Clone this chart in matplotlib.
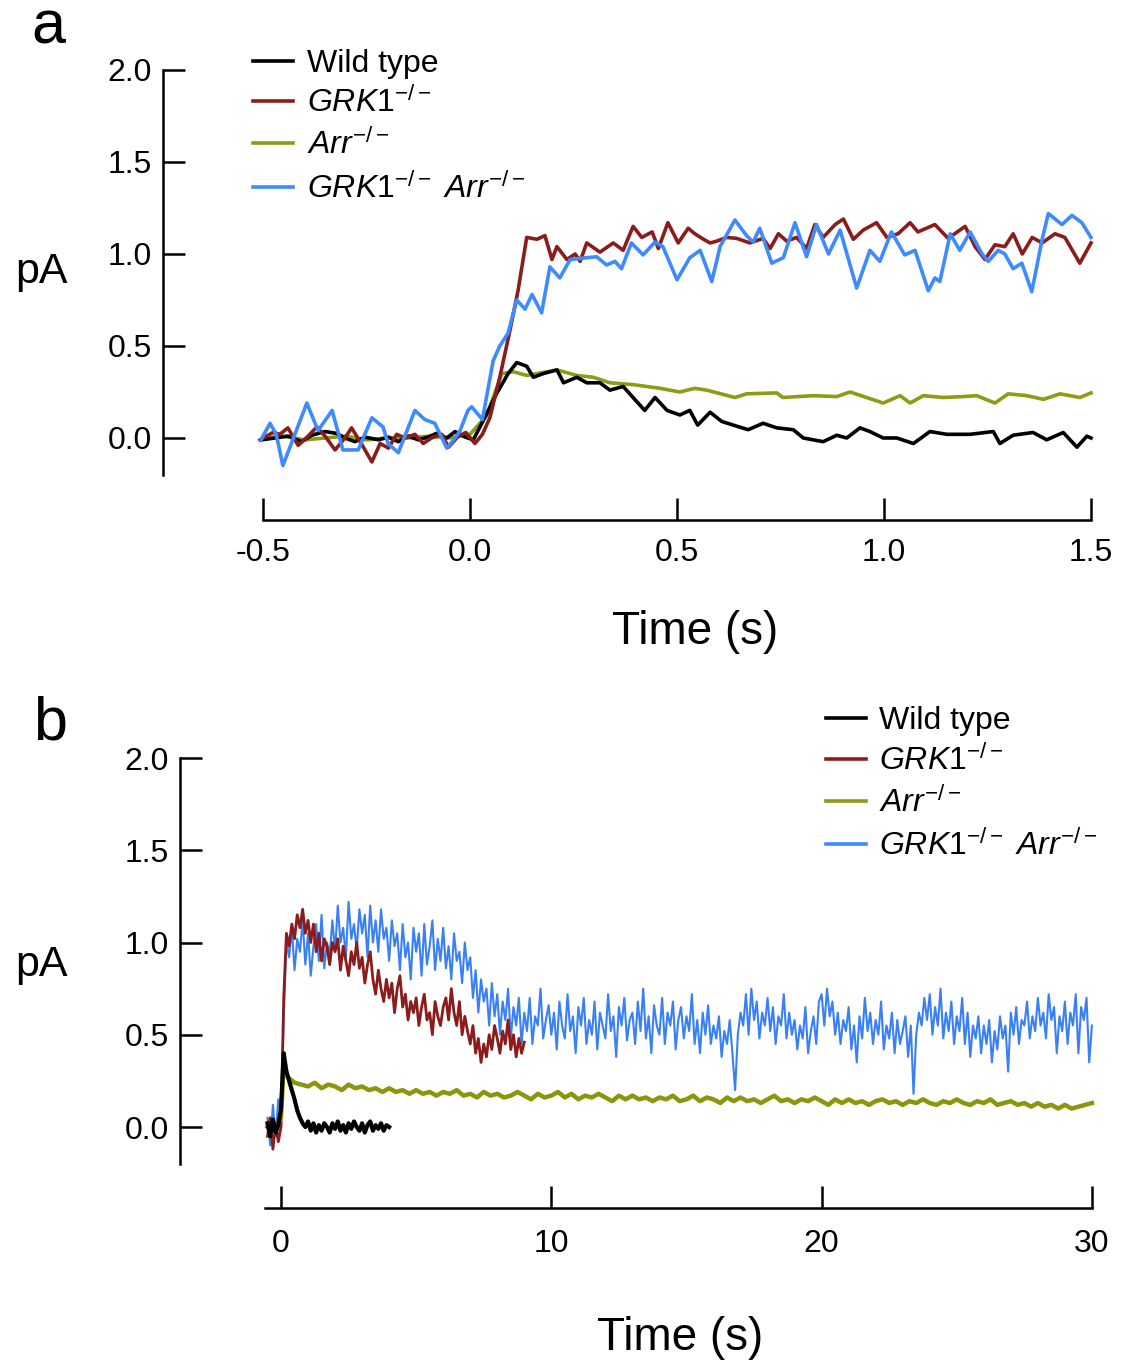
import numpy as np
import matplotlib
matplotlib.use('Agg')
import matplotlib.pyplot as plt
from matplotlib.lines import Line2D

plt.rcParams['font.family'] = ['Liberation Sans', 'DejaVu Sans']
plt.rcParams['axes.unicode_minus'] = False
plt.rcParams['mathtext.fontset'] = 'custom'
plt.rcParams['mathtext.rm'] = 'Liberation Sans'
plt.rcParams['mathtext.it'] = 'Liberation Sans:italic'
plt.rcParams['mathtext.bf'] = 'Liberation Sans:bold'

W, H = 1122, 1364

labels = ['Wild type', r'$\mathit{GRK1}^{-/-}$', r'$\mathit{Arr}^{-/-}$',
          r'$\mathit{GRK1}^{-/-}\ \mathit{Arr}^{-/-}$']
colors = ['#000000', '#8b1c1c', '#8f9b12', '#3d8bff']
y_ticks = [0.0, 0.5, 1.0, 1.5, 2.0]
x_ticks_a = [-0.5, 0.0, 0.5, 1.0, 1.5]
x_ticks_b = [0, 10, 20, 30]

# ---- panel a (0 - 1.5 s) ----
t_wt_a = [-0.503, -0.471, -0.439, -0.407, -0.382, -0.35, -0.322, -0.302, -0.278, -0.254,
          -0.221, -0.197, -0.173, -0.149, -0.125, -0.101, -0.081, -0.056, -0.036, -0.012,
          0.008, 0.04, 0.064, 0.092, 0.113, 0.137, 0.153, 0.177, 0.21, 0.226,
          0.258, 0.282, 0.314, 0.338, 0.37, 0.394, 0.422, 0.447, 0.476, 0.507,
          0.531, 0.55, 0.58, 0.608, 0.636, 0.672, 0.708, 0.741, 0.781, 0.805,
          0.853, 0.886, 0.91, 0.942, 0.966, 0.998, 1.031, 1.071, 1.111, 1.152,
          1.208, 1.264, 1.28, 1.312, 1.36, 1.393, 1.433, 1.466, 1.49, 1.5]
wt_a = [-0.01, 0.0, 0.01, -0.02, 0.015, 0.035, 0.025, 0.0, -0.02, 0.005,
        -0.01, 0.005, -0.02, 0.01, -0.01, 0.005, 0.025, 0.0, 0.035, 0.005,
        -0.01, 0.13, 0.24, 0.35, 0.41, 0.39, 0.33, 0.35, 0.37, 0.30,
        0.33, 0.30, 0.30, 0.26, 0.28, 0.22, 0.15, 0.22, 0.15, 0.125,
        0.15, 0.07, 0.14, 0.09, 0.07, 0.045, 0.08, 0.055, 0.045, 0.0,
        -0.02, 0.015, 0.0, 0.055, 0.035, 0.0, 0.0, -0.03, 0.035, 0.02,
        0.02, 0.035, -0.03, 0.015, 0.03, -0.01, 0.03, -0.05, 0.01, 0.0]

t_grk_a = [-0.507, -0.476, -0.459, -0.44, -0.415, -0.391, -0.37, -0.35, -0.326, -0.302,
           -0.286, -0.26, -0.237, -0.217, -0.197, -0.177, -0.157, -0.133, -0.113, -0.093,
           -0.068, -0.052, -0.028, -0.01, 0.012, 0.03, 0.048, 0.072, 0.097, 0.116,
           0.137, 0.162, 0.181, 0.198, 0.21, 0.234, 0.254, 0.266, 0.282, 0.314,
           0.346, 0.37, 0.394, 0.415, 0.44, 0.455, 0.478, 0.503, 0.527, 0.543,
           0.564, 0.58, 0.596, 0.62, 0.644, 0.676, 0.708, 0.725, 0.745, 0.765,
           0.789, 0.813, 0.833, 0.853, 0.882, 0.902, 0.926, 0.95, 0.982, 1.007,
           1.034, 1.063, 1.082, 1.123, 1.155, 1.196, 1.22, 1.244, 1.268, 1.292,
           1.312, 1.334, 1.358, 1.382, 1.413, 1.437, 1.473, 1.5]
grk_a = [-0.01, 0.03, 0.02, 0.055, -0.04, 0.01, 0.06, 0.01, -0.065, 0.0,
         0.055, -0.04, -0.13, -0.03, -0.055, 0.02, 0.0, 0.02, -0.03, 0.0,
         0.02, -0.05, 0.01, 0.03, -0.03, 0.02, 0.11, 0.33, 0.59, 0.80,
         1.09, 1.08, 1.10, 0.97, 1.04, 0.97, 1.0, 0.96, 1.06, 1.01,
         1.06, 1.02, 1.15, 1.09, 1.12, 1.03, 1.17, 1.06, 1.14, 1.11,
         1.08, 1.06, 1.07, 1.09, 1.085, 1.06, 1.085, 1.03, 1.11, 1.07,
         1.09, 1.03, 1.16, 1.09, 1.16, 1.19, 1.08, 1.13, 1.17, 1.09,
         1.11, 1.17, 1.12, 1.16, 1.085, 1.15, 1.04, 0.97, 1.05, 1.04,
         1.11, 1.0, 1.09, 1.06, 1.11, 1.09, 0.95, 1.06]

t_arr_a = [-0.5, -0.45, -0.4, -0.35, -0.3, -0.25, -0.2, -0.15, -0.1, -0.05,
           0.0, 0.04, 0.077, 0.105, 0.137, 0.21, 0.258, 0.298, 0.338, 0.394,
           0.459, 0.507, 0.543, 0.572, 0.64, 0.668, 0.741, 0.756, 0.829, 0.886,
           0.918, 0.958, 0.998, 1.039, 1.063, 1.095, 1.143, 1.191, 1.224, 1.268,
           1.3, 1.345, 1.385, 1.425, 1.473, 1.5]
arr_a = [0.0, 0.01, -0.01, 0.0, 0.01, -0.01, 0.0, 0.0, 0.01, 0.0,
         0.02, 0.12, 0.35, 0.36, 0.34, 0.37, 0.34, 0.33, 0.30, 0.29,
         0.27, 0.25, 0.27, 0.26, 0.22, 0.24, 0.245, 0.22, 0.23, 0.225,
         0.25, 0.22, 0.19, 0.23, 0.19, 0.23, 0.22, 0.225, 0.23, 0.19,
         0.24, 0.23, 0.21, 0.24, 0.22, 0.245]

t_dko_a = [-0.505, -0.483, -0.468, -0.452, -0.423, -0.394, -0.367, -0.333, -0.307, -0.27,
           -0.237, -0.21, -0.198, -0.173, -0.133, -0.109, -0.085, -0.056, -0.036, -0.024,
           -0.005, 0.004, 0.03, 0.056, 0.072, 0.092, 0.113, 0.133, 0.15, 0.173,
           0.193, 0.217, 0.242, 0.282, 0.306, 0.33, 0.35, 0.366, 0.39, 0.418,
           0.447, 0.466, 0.5, 0.531, 0.556, 0.584, 0.604, 0.64, 0.668, 0.684,
           0.7, 0.729, 0.757, 0.785, 0.813, 0.837, 0.866, 0.894, 0.934, 0.966,
           0.99, 1.018, 1.05, 1.075, 1.107, 1.123, 1.135, 1.16, 1.183, 1.208,
           1.237, 1.252, 1.276, 1.292, 1.312, 1.333, 1.357, 1.382, 1.397, 1.43,
           1.454, 1.478, 1.5]
dko_a = [-0.01, 0.08, 0.02, -0.15, 0.02, 0.19, 0.04, 0.15, -0.065, -0.065,
         0.11, 0.06, -0.03, -0.08, 0.15, 0.10, 0.08, -0.055, 0.0, 0.04,
         0.15, 0.17, 0.10, 0.42, 0.50, 0.57, 0.75, 0.70, 0.78, 0.68,
         0.93, 0.87, 0.97, 0.98, 0.985, 0.94, 0.96, 0.92, 1.06, 0.995,
         1.065, 1.04, 0.86, 0.98, 1.02, 0.85, 1.04, 1.185, 1.10, 1.065,
         1.14, 0.95, 0.98, 1.17, 0.985, 1.16, 1.0, 1.13, 0.815, 1.02,
         0.96, 1.12, 0.995, 1.02, 0.80, 0.87, 0.85, 1.11, 1.02, 1.12,
         1.0, 0.96, 1.02, 1.0, 0.92, 0.95, 0.795, 1.08, 1.22, 1.16,
         1.21, 1.17, 1.09]

# ---- panel b (0 - 30 s), sampled every 0.1 s from -0.5 s ----
wt_b = [0.02, -0.05, 0.04, -0.03, 0.01,
        0.10, 0.40, 0.30, 0.25, 0.20, 0.15, 0.09, 0.05, 0.02, 0.0,
        0.03, -0.02, 0.02, -0.03, 0.01, -0.02, 0.02, 0.0, -0.03, 0.02,
        -0.01, 0.03, -0.02, 0.01, -0.03, 0.02, -0.01, 0.03, 0.0, -0.02,
        0.02, -0.03, 0.01, 0.03, -0.02, 0.01, -0.01, 0.02, -0.02, 0.01,
        0.0]

grk_b = [-0.05, 0.05, -0.12, 0.02, -0.08,
         0.0, 0.70, 1.05, 0.98, 1.10, 1.02, 1.15, 1.08, 1.18, 1.05,
         1.12, 1.00, 1.10, 0.95, 1.05, 0.90, 1.02, 0.98, 0.88, 1.00,
         0.95, 1.02, 0.85, 0.98, 0.90, 0.82, 0.95, 0.88, 1.00, 0.86,
         0.92, 0.78, 0.88, 0.95, 0.80, 0.72, 0.85, 0.75, 0.68, 0.80,
         0.70, 0.78, 0.62, 0.75, 0.82, 0.65, 0.72, 0.58, 0.68, 0.62,
         0.70, 0.55, 0.65, 0.72, 0.58, 0.62, 0.50, 0.68, 0.60, 0.55,
         0.65, 0.70, 0.58, 0.75, 0.62, 0.55, 0.68, 0.50, 0.60, 0.52,
         0.45, 0.55, 0.40, 0.48, 0.35, 0.45, 0.38, 0.50, 0.42, 0.55,
         0.48, 0.40, 0.52, 0.45, 0.58, 0.42, 0.50, 0.38, 0.48, 0.40,
         0.46]

dko_b = [0.05, -0.10, 0.12, -0.05, 0.15,
         0.05, 0.60, 1.00, 0.92, 1.08, 0.85, 1.02, 0.95, 1.12, 0.88,
         1.05, 0.82, 0.98, 1.10, 0.90, 1.15, 0.86, 1.00, 0.93, 1.12,
         0.95, 1.20, 1.00, 1.08, 0.92, 1.22, 1.02, 1.10, 0.96, 1.18,
         1.05, 1.15, 0.92, 1.20, 1.00, 1.12, 0.95, 1.18, 1.02, 1.08,
         0.90, 1.12, 0.98, 1.05, 0.85, 1.10, 0.92, 1.00, 0.80, 1.08,
         0.95, 1.05, 0.82, 1.10, 0.88, 0.98, 1.12, 0.85, 1.02, 0.90,
         1.08, 0.86, 0.98, 0.80, 1.05, 0.90, 0.95, 0.78, 1.00, 0.85,
         0.92, 0.70, 0.85, 0.62, 0.80, 0.68, 0.75, 0.55, 0.78, 0.60,
         0.72, 0.50, 0.68, 0.58, 0.75, 0.48, 0.65, 0.55, 0.70, 0.45,
         0.62, 0.52, 0.70, 0.45, 0.60, 0.55, 0.75, 0.48, 0.58, 0.66,
         0.50, 0.62, 0.42, 0.68, 0.55, 0.48, 0.72, 0.52, 0.60, 0.40,
         0.65, 0.55, 0.70, 0.45, 0.58, 0.50, 0.68, 0.42, 0.62, 0.55,
         0.48, 0.72, 0.52, 0.60, 0.38, 0.65, 0.55, 0.70, 0.47, 0.58,
         0.62, 0.45, 0.68, 0.52, 0.75, 0.48, 0.60, 0.40, 0.66, 0.55,
         0.50, 0.70, 0.45, 0.62, 0.55, 0.68, 0.42, 0.58, 0.65, 0.48,
         0.60, 0.52, 0.72, 0.45, 0.58, 0.40, 0.62, 0.50, 0.66, 0.45,
         0.55, 0.48, 0.60, 0.38, 0.52, 0.45, 0.58, 0.40, 0.20, 0.50,
         0.62, 0.55, 0.72, 0.50, 0.75, 0.58, 0.68, 0.48, 0.62, 0.55,
         0.70, 0.52, 0.65, 0.45, 0.60, 0.55, 0.72, 0.48, 0.62, 0.50,
         0.58, 0.42, 0.55, 0.48, 0.65, 0.40, 0.52, 0.60, 0.45, 0.68,
         0.72, 0.55, 0.75, 0.60, 0.68, 0.50, 0.62, 0.45, 0.58, 0.52,
         0.65, 0.42, 0.55, 0.35, 0.60, 0.48, 0.70, 0.52, 0.62, 0.45,
         0.58, 0.50, 0.68, 0.42, 0.55, 0.48, 0.62, 0.40, 0.58, 0.45,
         0.52, 0.60, 0.38, 0.55, 0.18, 0.50, 0.62, 0.55, 0.70, 0.58,
         0.72, 0.50, 0.65, 0.55, 0.75, 0.48, 0.62, 0.52, 0.68, 0.45,
         0.60, 0.52, 0.70, 0.45, 0.62, 0.38, 0.55, 0.48, 0.60, 0.40,
         0.55, 0.45, 0.58, 0.35, 0.52, 0.42, 0.60, 0.48, 0.55, 0.30,
         0.62, 0.50, 0.65, 0.45, 0.58, 0.55, 0.68, 0.48, 0.60, 0.52,
         0.70, 0.55, 0.62, 0.48, 0.72, 0.58, 0.65, 0.40, 0.60, 0.52,
         0.68, 0.45, 0.62, 0.55, 0.72, 0.40, 0.65, 0.58, 0.70, 0.35,
         0.55]

t_arr_b_head = [-0.5, -0.3, -0.1, 0.0, 0.1, 0.25, 0.5, 0.75]
arr_b = [0.0, -0.03, 0.02, 0.05, 0.35, 0.27, 0.24, 0.23,
         0.22, 0.24, 0.21, 0.23, 0.22, 0.20, 0.23, 0.21,
         0.22, 0.20, 0.21, 0.19, 0.21, 0.19, 0.20, 0.18,
         0.20, 0.18, 0.19, 0.17, 0.19, 0.18, 0.20, 0.17,
         0.18, 0.16, 0.19, 0.17, 0.18, 0.16, 0.17, 0.19,
         0.17, 0.15, 0.18, 0.16, 0.17, 0.19, 0.16, 0.18,
         0.15, 0.17, 0.16, 0.18, 0.16, 0.14, 0.17, 0.15,
         0.17, 0.15, 0.16, 0.14, 0.16, 0.15, 0.17, 0.14,
         0.15, 0.17, 0.14, 0.16, 0.15, 0.13, 0.16, 0.14,
         0.16, 0.14, 0.15, 0.13, 0.15, 0.17, 0.14, 0.15,
         0.13, 0.15, 0.14, 0.16, 0.14, 0.12, 0.15, 0.13,
         0.15, 0.13, 0.14, 0.12, 0.14, 0.15, 0.13, 0.14,
         0.12, 0.14, 0.13, 0.15, 0.13, 0.12, 0.14, 0.13,
         0.15, 0.13, 0.12, 0.14, 0.13, 0.15, 0.12, 0.13,
         0.14, 0.12, 0.13, 0.11, 0.13, 0.11, 0.12, 0.10,
         0.12, 0.10, 0.11, 0.12, 0.13]

t_b = np.round(np.arange(len(dko_b)) * 0.1 - 0.5, 2)
t_arr_b = np.concatenate([t_arr_b_head, 1.0 + 0.25 * np.arange(len(arr_b) - len(t_arr_b_head))])


def px(x, y):
    return x / W, 1 - y / H


def style_axes(ax, xticks, xb0, xb1, xpad):
    for s in ['top', 'right']:
        ax.spines[s].set_visible(False)
    for s in ['left', 'bottom']:
        ax.spines[s].set_linewidth(1.8)
    ax.spines['left'].set_bounds(-0.2, 2.0)
    ax.spines['bottom'].set_bounds(xb0, xb1)
    ax.set_yticks(y_ticks)
    ax.set_yticklabels(['%.1f' % v for v in y_ticks])
    ax.set_xticks(xticks)
    ax.tick_params(direction='in', length=16, width=1.8, labelsize=23)
    ax.tick_params(axis='y', pad=8)
    ax.tick_params(axis='x', pad=xpad)
    ax.patch.set_visible(False)


def draw_legend(fig, x0, x1, xt, ys):
    for y, lab, c in zip(ys, labels, colors):
        fig.add_artist(Line2D([x0 / W, x1 / W], [1 - y / H] * 2, color=c, lw=2.6))
        fig.text(xt / W, 1 - (y + 11) / H, lab, fontsize=23, ha='left', va='baseline')


fig = plt.figure(figsize=(W / 100, H / 100), dpi=100)

# panel a
ax1 = fig.add_axes([163 / W, 1 - 520 / H, (1096 - 163) / W, (520 - 66) / H])
ax1.plot(t_arr_a, arr_a, color=colors[2], lw=2.6)
ax1.plot(t_wt_a, wt_a, color=colors[0], lw=2.6)
ax1.plot(t_grk_a, grk_a, color=colors[1], lw=2.6)
ax1.plot(t_dko_a, dko_a, color=colors[3], lw=2.6)
ax1.set_xlim(-0.7415, 1.5121)
ax1.set_ylim(-0.4457, 2.0217)
style_axes(ax1, x_ticks_a, -0.5, 1.5, 13)
ax1.set_xticklabels(['%.1f' % v for v in x_ticks_a])

# panel b
ax2 = fig.add_axes([180 / W, 1 - 1208 / H, (1096 - 180) / W, (1208 - 754) / H])
ax2.plot(t_b, dko_b, color='#3a80f5', lw=1.5)
ax2.plot(t_b[:len(grk_b)], grk_b, color=colors[1], lw=2.0)
ax2.plot(t_arr_b, arr_b, color='#8a960c', lw=3.2)
ax2.plot(t_b[:len(wt_b)], wt_b, color=colors[0], lw=3.0)
ax2.set_xlim(-3.737, 30.151)
ax2.set_ylim(-0.439, 2.0217)
style_axes(ax2, x_ticks_b, -0.6, 30, 15)
ax2.set_xticklabels([str(v) for v in x_ticks_b])

draw_legend(fig, 253, 293, 307, [61, 101, 143, 187])
draw_legend(fig, 826, 866, 879, [718, 759, 801, 844])

fig.text(*px(42, 272), 'pA', fontsize=31, ha='center', va='center')
fig.text(*px(42, 965), 'pA', fontsize=31, ha='center', va='center')
fig.text(*px(695, 632), 'Time (s)', fontsize=33, ha='center', va='center')
fig.text(*px(680, 1338), 'Time (s)', fontsize=33, ha='center', va='center')
fig.text(*px(48, 44), 'a', fontsize=44, ha='center', va='baseline')
fig.text(*px(50, 740), 'b', fontsize=44, ha='center', va='baseline')

fig.savefig('out.png', dpi=100)
